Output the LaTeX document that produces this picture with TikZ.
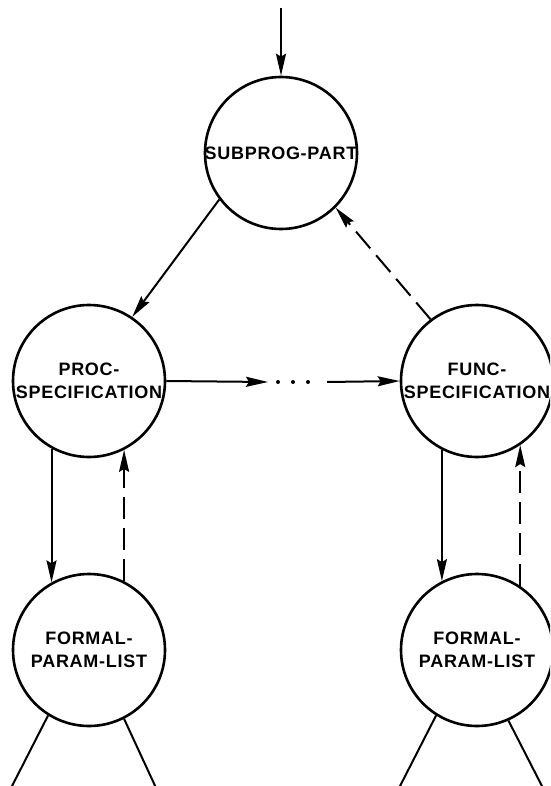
\documentclass[tikz,border=0pt]{standalone}
\usepackage{fontspec}
\newfontfamily\lblfont[LetterSpace=4]{Liberation Sans}
\usetikzlibrary{arrows.meta}
\begin{document}
\begin{tikzpicture}[x=1pt,y=-1pt,
  state/.style={circle, draw, line width=2.6pt, minimum size=152pt, inner sep=0pt},
  lbl/.style={align=center, inner sep=0pt, font=\lblfont\bfseries\fontsize{18}{23}\selectfont},
  link/.style={line width=2pt, -{Stealth[length=22pt,width=10pt,inset=3pt]}},
  back/.style={link, dash pattern=on 22pt off 9pt},
  branch/.style={line width=2pt}]
\useasboundingbox (0,0) rectangle (550,786);
\clip (0,0) rectangle (550,786);

% states
\node[state] (sp) at (281,153) {};
\node[state] (ps) at (89,381) {};
\node[state] (fs) at (477,381) {};
\node[state] (fl) at (89,650) {};
\node[state] (fr) at (477,650) {};

% state names
\node[lbl] (sp-t) at (sp) {SUBPROG-PART};
\node[lbl] (ps-t) at (ps) {PROC-\\SPECIFICATION};
\node[lbl] (fs-t) at (fs) {FUNC-\\SPECIFICATION};
\node[lbl] (fl-t) at (fl) {FORMAL-\\PARAM-LIST};
\node[lbl] (fr-t) at (fr) {FORMAL-\\PARAM-LIST};

% free ends
\coordinate (in) at (281,8);
\coordinate (gapL) at (268,382);
\coordinate (gapR) at (327,382);
\coordinate (fl-a) at (10,790);
\coordinate (fl-b) at (157,790);
\coordinate (fr-a) at (398,790);
\coordinate (fr-b) at (544,790);

% entry
\draw[link] (in) -- (sp.north);

% descent and return
\draw[link] (sp.217) -- (ps.56);
\draw[back] (fs.127) -- (sp.315);

% sibling chain
\draw[link] (ps.east) -- (gapL);
\foreach \x in {278,293,308} \fill (\x,382) circle (2pt);
\draw[link] (gapR) -- (fs.west);

% parameter lists
\draw[link] (ps.241) -- (fl.119);
\draw[back] (fl.63) -- (ps.297);
\draw[link] (fs.243) -- (fr.117);
\draw[back] (fr.56) -- (fs.304);

% subtrees below
\draw[branch] (fl.238) -- (fl-a);
\draw[branch] (fl.297) -- (fl-b);
\draw[branch] (fr.238) -- (fr-a);
\draw[branch] (fr.294) -- (fr-b);
\end{tikzpicture}
\end{document}
